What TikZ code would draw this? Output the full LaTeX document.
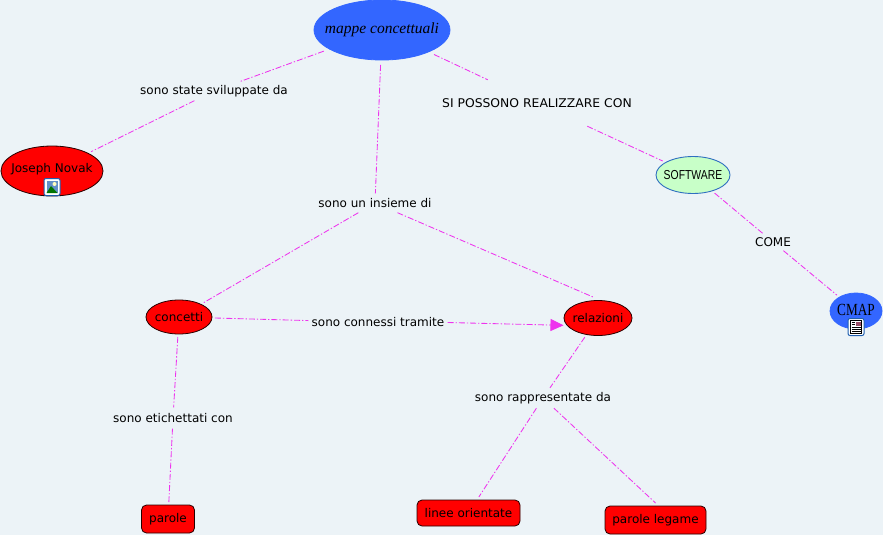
\documentclass[tikz,border=0pt]{standalone}
\usepackage{fontspec}
\usepackage{graphicx}
\setmainfont{DejaVu Sans}
\newfontfamily\serifcond{Liberation Serif}
\newfontfamily\sanscond{Liberation Sans}
\usetikzlibrary{shapes.geometric,arrows.meta}
\definecolor{bgc}{HTML}{ECF3F7}
\definecolor{linkc}{HTML}{EE33EE}
\definecolor{bluec}{HTML}{3366FF}
\definecolor{greenc}{HTML}{C8FFC8}
\definecolor{edgeblue}{HTML}{2F6FC0}
\definecolor{iconblue}{HTML}{1F5FB0}
\newcommand{\nw}[1]{\makebox[0pt][c]{#1}}
\tikzset{
  x=1pt,y=-1pt,
  concept/.style={ellipse,draw=#1,line width=0.8pt,inner sep=0pt,outer sep=3pt,font=\fontsize{12}{14}\selectfont},
  redell/.style={concept=black!85!red,fill=red},
  redbox/.style={rectangle,rounded corners=5pt,draw=black!85!red,line width=0.8pt,fill=red,inner sep=0pt,outer sep=3pt,font=\fontsize{12}{14}\selectfont},
  linklabel/.style={rectangle,inner xsep=3pt,inner ysep=0pt,minimum height=#1,font=\fontsize{12}{14}\selectfont},
  linklabel/.default=19pt,
  link/.style={draw=linkc,line width=0.85pt,dash pattern=on 6pt off 2pt on 1.3pt off 2pt},
}
\newcommand{\picicon}[1]{%
  \begin{scope}[shift={#1}]
    \draw[iconblue,fill=white,rounded corners=2pt,line width=1pt] (-8,-8.5) rectangle (8,8.5);
    \fill[iconblue!70] (-5.5,-6) rectangle (5.5,6);
    \fill[white!75!yellow] (2.5,-3) circle (2);
    \fill[green!45!black] (-5.5,6) -- (-1,-1) -- (5.5,6) -- cycle;
  \end{scope}}
\newcommand{\docicon}[1]{%
  \begin{scope}[shift={#1}]
    \draw[iconblue,fill=white,rounded corners=2pt,line width=1pt] (-8,-8.5) rectangle (8,8.5);
    \draw[black,fill=white,line width=0.5pt] (-5.5,-6.5) rectangle (5.5,6.5);
    \fill[orange!60!blue] (0,-5.5) rectangle (4.5,-1);
    \foreach \yy in {-4.5,-2.5}{\draw[black,line width=0.6pt] (-4.5,\yy) -- (-1,\yy);}
    \foreach \yy in {0.5,2.5,4.5}{\draw[black,line width=0.6pt] (-4.5,\yy) -- (4.5,\yy);}
  \end{scope}}
\begin{document}
\begin{tikzpicture}
\useasboundingbox (0,0) rectangle (883,535);
\fill[bgc] (0,0) rectangle (883,535);
% concepts
\node[concept=bluec,fill=bluec,minimum width=136pt,minimum height=60pt,outer sep=5pt] (mappe) at (382,30)
  {\nw{\serifcond\itshape\fontsize{15.5}{18}\selectfont mappe concettuali}};
\node[redell,minimum width=102pt,minimum height=50pt] (novak) at (52,171) {\nw{\raisebox{6pt}{Joseph Novak}}};
\node[concept=edgeblue,fill=greenc,minimum width=74pt,minimum height=37pt,line width=0.9pt] (soft) at (693,175)
  {\nw{\sanscond\fontsize{13}{15}\selectfont\scalebox{0.8}[1]{SOFTWARE}}};
\node[concept=bluec,fill=bluec,minimum width=52pt,minimum height=36pt] (cmap) at (856,311)
  {\nw{\raisebox{2pt}{\serifcond\fontsize{17}{19}\selectfont\scalebox{0.78}[1]{CMAP}}}};
\node[redell,minimum width=66pt,minimum height=34pt] (conc) at (179,317) {\nw{concetti}};
\node[redell,minimum width=68pt,minimum height=35pt] (rel) at (598,318) {\nw{relazioni}};
\node[redbox,minimum width=53pt,minimum height=28pt] (parole) at (168,519) {\nw{parole}};
\node[redbox,minimum width=103pt,minimum height=26pt] (linee) at (468.5,513) {\nw{linee orientate}};
\node[redbox,minimum width=101pt,minimum height=28pt] (legame) at (655.5,520) {\nw{parole legame}};
% linking phrases
\node[linklabel] (l1) at (214,91) {sono state sviluppate da};
\node[linklabel=46pt] (l2) at (537,103) {\scalebox{1.03}[1]{SI POSSONO REALIZZARE CON}};
\node[linklabel] (l3) at (375,203) {sono un insieme di};
\node[linklabel=17pt] (l4) at (773,242) {COME};
\node[linklabel] (l5) at (378,322.5) {sono connessi tramite};
\node[linklabel=21pt] (l6) at (173,418) {sono etichettati con};
\node[linklabel=20pt] (l7) at (543,398) {sono rappresentate da};
% connectors
\draw[link] (mappe) -- (l1);
\draw[link] (l1) -- (novak);
\draw[link] (mappe) -- (l2);
\draw[link] (l2) -- (soft);
\draw[link] (mappe) -- (l3);
\draw[link] (l3) -- (conc);
\draw[link] (l3) -- (rel.100);
\draw[link] (soft) -- (l4);
\draw[link] (l4) -- (cmap);
\draw[link] (conc) -- (l5);
\draw[link,-{Triangle[length=13pt,width=12pt,fill=linkc]}] (l5.east) -- (rel.192);
\draw[link] (conc) -- (l6);
\draw[link] (l6) -- (parole);
\draw[link] (rel) -- (l7);
\draw[link] (l7) -- (linee);
\draw[link] (l7) -- (legame.north);
% icons
\picicon{(52,187)}
\docicon{(856,327)}
\end{tikzpicture}
\end{document}
